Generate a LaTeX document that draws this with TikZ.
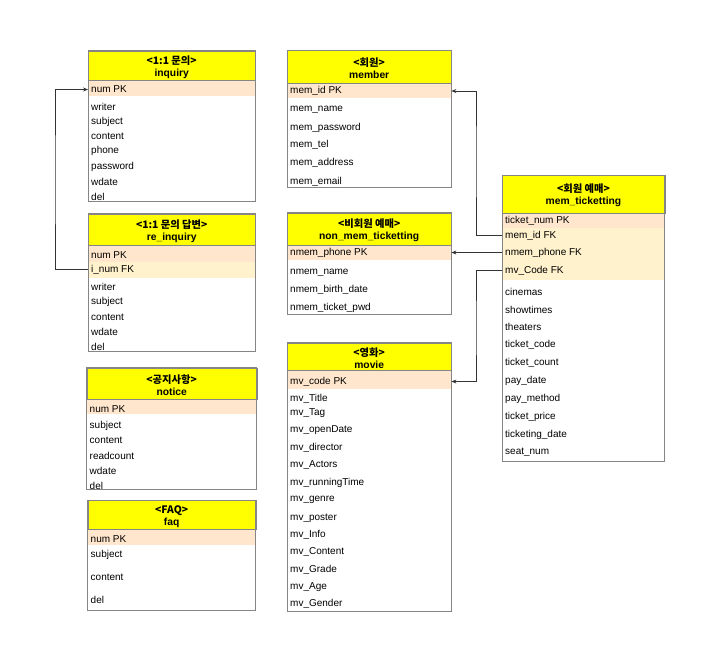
\documentclass[tikz,border=0pt]{standalone}
\usepackage{fontspec}
\setmainfont{Liberation Sans}
\newfontfamily\kr{Noto Sans CJK KR}
\usetikzlibrary{arrows.meta}
\definecolor{hdrfill}{HTML}{FFFF00}
\definecolor{pkfill}{HTML}{FFE6CC}
\definecolor{fkfill}{HTML}{FFF2CC}
\definecolor{bordercol}{HTML}{858585}
\definecolor{conncol}{HTML}{333333}
\begin{document}
\begin{tikzpicture}[x=1pt,y=-1pt,
  hdr/.style={draw=bordercol, fill=hdrfill, inner sep=0pt, align=center,
    font=\fontsize{10.3}{12}\selectfont},
  border/.style={draw=bordercol, line width=0.8pt},
  row/.style={anchor=west, inner xsep=3pt, inner ysep=1pt, yshift=-1.5pt, font=\fontsize{10}{12}\selectfont},
  pkrow/.style={fill=pkfill},
  fkrow/.style={fill=fkfill},
  conn/.style={draw=conncol, line width=0.7pt, -{Stealth[length=5pt,width=4pt]}}]
\useasboundingbox (0,0) rectangle (715,662);
\fill[white] (0,0) rectangle (715,662);
\newcommand\erbox[8]{%
  \node[hdr, minimum width={#3-#2}, minimum height={#5-#4}, anchor=north west] (#1) at (#2,#4)
    {\rule{0pt}{12pt}{\kr\bfseries #7}\\\bfseries #8};
}
\newcommand\erframe[4]{\draw[border] (#1,#2) rectangle (#3,#4);}

% ---------- inquiry ----------
\fill[pkrow] (88,79.5) rectangle (255,95.5);
\erbox{inq}{88}{255}{50.5}{79.5}{201.5}{<1:1 문의>}{inquiry}
\node[row] (inq-pk) at (88,88) {num PK};
\node[row] (inq-r1) at (88,105.7) {writer};
\node[row] (inq-r2) at (88,120.3) {subject};
\node[row] (inq-r3) at (88,134.7) {content};
\node[row] (inq-r4) at (88,149) {phone};
\node[row] (inq-r5) at (88,165) {password};
\node[row] (inq-r6) at (88,180.7) {wdate};
\node[row] (inq-r7) at (88,195) {del};
\erframe{88}{50.5}{255}{201.5}

% ---------- re_inquiry ----------
\fill[pkrow] (88,244.5) rectangle (255,262);
\fill[fkrow] (88,262) rectangle (255,278);
\erbox{rei}{88}{255}{213.5}{244.5}{351}{<1:1 문의 답변>}{re\_inquiry}
\node[row] (rei-pk) at (88,253.5) {num PK};
\node[row] (rei-fk) at (88,268) {i\_num FK};
\node[row] (rei-r1) at (88,285) {writer};
\node[row] (rei-r2) at (88,300) {subject};
\node[row] (rei-r3) at (88,315.7) {content};
\node[row] (rei-r4) at (88,330) {wdate};
\node[row] (rei-r5) at (88,345) {del};
\erframe{88}{213.5}{255}{351}

% ---------- notice ----------
\fill[pkrow] (86.5,398.5) rectangle (256.5,414);
\erbox{ntc}{86.5}{256.5}{367.5}{398.5}{489.5}{<공지사항>}{notice}
\node[row] (ntc-pk) at (86.5,407.5) {num PK};
\node[row] (ntc-r1) at (86.5,424.3) {subject};
\node[row] (ntc-r2) at (86.5,438.7) {content};
\node[row] (ntc-r3) at (86.5,454.7) {readcount};
\node[row] (ntc-r4) at (86.5,469.3) {wdate};
\node[row] (ntc-r5) at (86.5,484) {del};
\erframe{86.5}{367.5}{256.5}{489.5}

% ---------- faq ----------
\fill[pkrow] (87.5,528.5) rectangle (255.5,545);
\erbox{faq}{87.5}{255.5}{500}{528.5}{610}{<FAQ>}{faq}
\node[row] (faq-pk) at (87.5,537.5) {num PK};
\node[row] (faq-r1) at (87.5,553.3) {subject};
\node[row] (faq-r2) at (87.5,575.7) {content};
\node[row] (faq-r3) at (87.5,598.3) {del};
\erframe{87.5}{500}{255.5}{610}

% ---------- member ----------
\fill[pkrow] (287,82.5) rectangle (451,97.5);
\erbox{mem}{287}{451}{50}{82.5}{187}{<회원>}{member}
\node[row] (mem-pk) at (287,89.5) {mem\_id PK};
\node[row] (mem-r1) at (287,108.3) {mem\_name};
\node[row] (mem-r2) at (287,126) {mem\_password};
\node[row] (mem-r3) at (287,143.7) {mem\_tel};
\node[row] (mem-r4) at (287,161.7) {mem\_address};
\node[row] (mem-r5) at (287,180) {mem\_email};
\erframe{287}{50}{451}{187}

% ---------- non_mem_ticketting ----------
\fill[pkrow] (287,244.5) rectangle (451,259.5);
\erbox{nm}{287}{451}{212.5}{244.5}{314}{<비회원 예매>}{non\_mem\_ticketting}
\node[row] (nm-pk) at (287,251) {nmem\_phone PK};
\node[row] (nm-r1) at (287,271) {nmem\_name};
\node[row] (nm-r2) at (287,288.7) {nmem\_birth\_date};
\node[row] (nm-r3) at (287,306.3) {nmem\_ticket\_pwd};
\erframe{287}{212.5}{451}{314}

% ---------- movie ----------
\fill[pkrow] (287,370) rectangle (451,389);
\erbox{mv}{287}{451}{342.5}{370}{611}{<영화>}{movie}
\node[row] (mv-pk) at (287,380) {mv\_code PK};
\node[row] (mv-r1) at (287,397.7) {mv\_Title};
\node[row] (mv-r2) at (287,412) {mv\_Tag};
\node[row] (mv-r3) at (287,428.3) {mv\_openDate};
\node[row] (mv-r4) at (287,446.7) {mv\_director};
\node[row] (mv-r5) at (287,463.7) {mv\_Actors};
\node[row] (mv-r6) at (287,481.3) {mv\_runningTime};
\node[row] (mv-r7) at (287,498.7) {mv\_genre};
\node[row] (mv-r8) at (287,516.7) {mv\_poster};
\node[row] (mv-r9) at (287,533.3) {mv\_Info};
\node[row] (mv-r10) at (287,550.7) {mv\_Content};
\node[row] (mv-r11) at (287,568.3) {mv\_Grade};
\node[row] (mv-r12) at (287,585.7) {mv\_Age};
\node[row] (mv-r13) at (287,602.3) {mv\_Gender};
\erframe{287}{342.5}{451}{611}

% ---------- mem_ticketting ----------
\fill[pkrow] (502,212.5) rectangle (664.5,227.5);
\fill[fkrow] (502,227.5) rectangle (664.5,279.5);
\erbox{mt}{502}{664.5}{175}{212.5}{461}{<회원 예매>}{mem\_ticketting}
\node[row] (mt-pk) at (502,219) {ticket\_num PK};
\node[row] (mt-memid) at (502,234) {mem\_id FK};
\node[row] (mt-nphone) at (502,251) {nmem\_phone FK};
\node[row] (mt-mv) at (502,269) {mv\_Code FK};
\node[row] (mt-r1) at (502,290.7) {cinemas};
\node[row] (mt-r2) at (502,308.3) {showtimes};
\node[row] (mt-r3) at (502,325.7) {theaters};
\node[row] (mt-r4) at (502,343.7) {ticket\_code};
\node[row] (mt-r5) at (502,361.7) {ticket\_count};
\node[row] (mt-r6) at (502,379.3) {pay\_date};
\node[row] (mt-r7) at (502,397.3) {pay\_method};
\node[row] (mt-r8) at (502,415) {ticket\_price};
\node[row] (mt-r9) at (502,433) {ticketing\_date};
\node[row] (mt-r10) at (502,451) {seat\_num};
\erframe{502}{175}{664.5}{461}

% ---------- connectors ----------
\coordinate (c1) at (55,180);
\coordinate (c2) at (476,160);
\coordinate (c3) at (476,330);
\draw[conn] (rei-fk.west) -| (c1) |- (inq-pk.west);
\draw[conn] (mt-memid.west) -| (c2) |- (mem-pk -| mem.east);
\draw[conn] (mt-nphone.west) -- (nm-pk -| nm.east);
\draw[conn] (mt-mv.west) -| (c3) |- (mv-pk -| mv.east);
\end{tikzpicture}
\end{document}
